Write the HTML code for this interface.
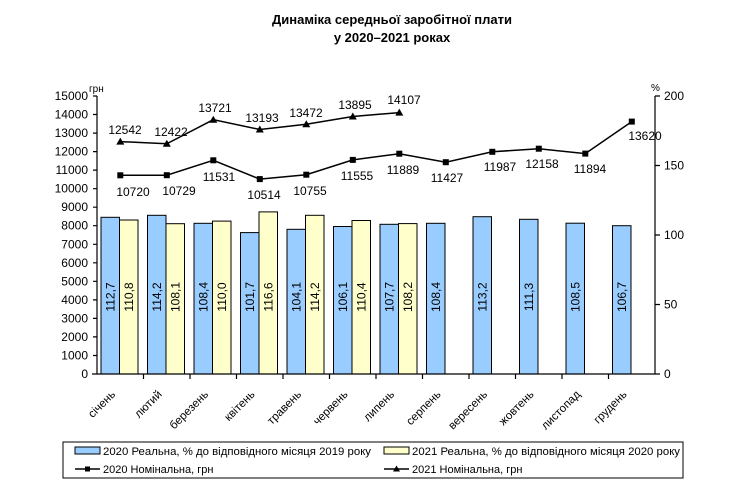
<!DOCTYPE html>
<html><head><meta charset="utf-8"><style>
html,body{margin:0;padding:0;background:#fff}
svg{display:block;font-family:"Liberation Sans",sans-serif}
</style></head><body>
<svg width="751" height="485" viewBox="0 0 751 485" xmlns="http://www.w3.org/2000/svg">
<text x="392" y="24" text-anchor="middle" font-size="13" font-weight="bold">Динаміка середньої заробітної плати</text>
<text x="392" y="42" text-anchor="middle" font-size="13" font-weight="bold">у 2020–2021 роках</text>
<g font-size="11" fill="#000">
<text x="89" y="92" font-size="10">грн</text>
<text x="651" y="91" font-size="10">%</text>
</g>
<g stroke="#000" stroke-width="1">
<g fill="#99ccff">
<rect x="101" y="217.3" width="18.5" height="156.7"/>
<rect x="147.5" y="215.3" width="18.5" height="158.7"/>
<rect x="194" y="223.3" width="18.5" height="150.7"/>
<rect x="240.5" y="232.6" width="18.5" height="141.4"/>
<rect x="287" y="229.3" width="18.5" height="144.7"/>
<rect x="333.5" y="226.5" width="18.5" height="147.5"/>
<rect x="380" y="224.3" width="18.5" height="149.7"/>
<rect x="426.5" y="223.3" width="18.5" height="150.7"/>
<rect x="473" y="216.7" width="18.5" height="157.3"/>
<rect x="519.5" y="219.3" width="18.5" height="154.7"/>
<rect x="566" y="223.2" width="18.5" height="150.8"/>
<rect x="612.5" y="225.7" width="18.5" height="148.3"/>
</g>
<g fill="#ffffcc">
<rect x="119.5" y="220" width="18.5" height="154"/>
<rect x="166" y="223.7" width="18.5" height="150.3"/>
<rect x="212.5" y="221.1" width="18.5" height="152.9"/>
<rect x="259" y="211.9" width="18.5" height="162.1"/>
<rect x="305.5" y="215.3" width="18.5" height="158.7"/>
<rect x="352" y="220.5" width="18.5" height="153.5"/>
<rect x="398.5" y="223.6" width="18.5" height="150.4"/>
</g>
</g>
<g font-size="12" text-anchor="middle">
<text transform="translate(114.5,297) rotate(-90)">112,7</text>
<text transform="translate(133,297) rotate(-90)">110,8</text>
<text transform="translate(161,297) rotate(-90)">114,2</text>
<text transform="translate(179.5,297) rotate(-90)">108,1</text>
<text transform="translate(207.5,297) rotate(-90)">108,4</text>
<text transform="translate(226,297) rotate(-90)">110,0</text>
<text transform="translate(254,297) rotate(-90)">101,7</text>
<text transform="translate(272.5,297) rotate(-90)">116,6</text>
<text transform="translate(300.5,297) rotate(-90)">104,1</text>
<text transform="translate(319,297) rotate(-90)">114,2</text>
<text transform="translate(347,297) rotate(-90)">106,1</text>
<text transform="translate(365.5,297) rotate(-90)">110,4</text>
<text transform="translate(393.5,297) rotate(-90)">107,7</text>
<text transform="translate(412,297) rotate(-90)">108,2</text>
<text transform="translate(440,297) rotate(-90)">108,4</text>
<text transform="translate(486.5,297) rotate(-90)">113,2</text>
<text transform="translate(533,297) rotate(-90)">111,3</text>
<text transform="translate(579.5,297) rotate(-90)">108,5</text>
<text transform="translate(626,297) rotate(-90)">106,7</text>
</g>
<g stroke="#000" stroke-width="1.2" fill="none">
<line x1="97" y1="96" x2="97" y2="374"/>
<line x1="655" y1="96" x2="655" y2="374"/>
<line x1="92" y1="374" x2="660" y2="374"/>
<path d="M93,96h4M93,114.5h4M93,133.1h4M93,151.6h4M93,170.1h4M93,188.7h4M93,207.2h4M93,225.7h4M93,244.3h4M93,262.8h4M93,281.3h4M93,299.9h4M93,318.4h4M93,336.9h4M93,355.5h4"/>
<path d="M655,96h5M655,165.5h5M655,235h5M655,304.5h5"/>
<path d="M143.5,374v5M190,374v5M236.5,374v5M283,374v5M329.5,374v5M376,374v5M422.5,374v5M469,374v5M515.5,374v5M562,374v5M608.5,374v5"/>
</g>
<g font-size="12" text-anchor="end">
<text x="88" y="100">15000</text><text x="88" y="118.5">14000</text><text x="88" y="137.1">13000</text>
<text x="88" y="155.6">12000</text><text x="88" y="174.1">11000</text><text x="88" y="192.7">10000</text>
<text x="88" y="211.2">9000</text><text x="88" y="229.7">8000</text><text x="88" y="248.3">7000</text>
<text x="88" y="266.8">6000</text><text x="88" y="285.3">5000</text><text x="88" y="303.9">4000</text>
<text x="88" y="322.4">3000</text><text x="88" y="340.9">2000</text><text x="88" y="359.5">1000</text>
<text x="88" y="378">0</text>
</g>
<g font-size="12">
<text x="664" y="100">200</text><text x="664" y="169.5">150</text><text x="664" y="239">100</text>
<text x="664" y="308.5">50</text><text x="664" y="378">0</text>
</g>
<polyline fill="none" stroke="#000" stroke-width="1.5" points="120.3,175.3 166.8,175.2 213.3,160.3 259.8,179.1 306.3,174.7 352.8,159.9 399.3,153.7 445.8,162.2 492.3,151.8 538.8,148.7 585.3,153.6 631.8,121.6"/>
<g fill="#000">
<rect x="117.3" y="172.3" width="6" height="6"/><rect x="163.8" y="172.2" width="6" height="6"/>
<rect x="210.3" y="157.3" width="6" height="6"/><rect x="256.8" y="176.1" width="6" height="6"/>
<rect x="303.3" y="171.7" width="6" height="6"/><rect x="349.8" y="156.9" width="6" height="6"/>
<rect x="396.3" y="150.7" width="6" height="6"/><rect x="442.8" y="159.2" width="6" height="6"/>
<rect x="489.3" y="148.8" width="6" height="6"/><rect x="535.8" y="145.7" width="6" height="6"/>
<rect x="582.3" y="150.6" width="6" height="6"/><rect x="628.8" y="118.6" width="6" height="6"/>
</g>
<polyline fill="none" stroke="#000" stroke-width="1.5" points="120.3,141.6 166.8,143.8 213.3,119.7 259.8,129.5 306.3,124.3 352.8,116.5 399.3,112.6"/>
<g fill="#000">
<path d="M120.3,137.6l4,7h-8z"/><path d="M166.8,139.8l4,7h-8z"/><path d="M213.3,115.7l4,7h-8z"/>
<path d="M259.8,125.5l4,7h-8z"/><path d="M306.3,120.3l4,7h-8z"/><path d="M352.8,112.5l4,7h-8z"/>
<path d="M399.3,108.6l4,7h-8z"/>
</g>
<g font-size="12" text-anchor="middle">
<text x="133" y="196">10720</text><text x="179" y="195">10729</text><text x="219" y="181">11531</text>
<text x="264" y="199">10514</text><text x="310" y="195">10755</text><text x="357" y="180">11555</text>
<text x="403" y="174">11889</text><text x="447" y="182">11427</text><text x="500" y="171">11987</text>
<text x="542" y="168">12158</text><text x="590" y="173">11894</text><text x="645" y="140">13620</text>
<text x="125" y="134">12542</text><text x="171" y="136">12422</text><text x="215" y="112">13721</text>
<text x="262" y="122">13193</text><text x="306" y="117">13472</text><text x="355" y="109">13895</text>
<text x="404" y="104">14107</text>
</g>
<g font-size="11.5" text-anchor="end">
<text transform="translate(116,395) rotate(-45)">січень</text>
<text transform="translate(162.5,395) rotate(-45)">лютий</text>
<text transform="translate(209,395) rotate(-45)">березень</text>
<text transform="translate(255.5,395) rotate(-45)">квітень</text>
<text transform="translate(302,395) rotate(-45)">травень</text>
<text transform="translate(348.5,395) rotate(-45)">червень</text>
<text transform="translate(395,395) rotate(-45)">липень</text>
<text transform="translate(441.5,395) rotate(-45)">серпень</text>
<text transform="translate(488,395) rotate(-45)">вересень</text>
<text transform="translate(534.5,395) rotate(-45)">жовтень</text>
<text transform="translate(581,395) rotate(-45)">листопад</text>
<text transform="translate(627.5,395) rotate(-45)">грудень</text>
</g>
<rect x="63" y="442" width="620" height="36" fill="none" stroke="#000" stroke-width="1"/>
<rect x="75" y="447" width="25" height="7" fill="#99ccff" stroke="#000"/>
<rect x="384" y="447" width="25" height="7" fill="#ffffcc" stroke="#000"/>
<line x1="75" y1="469" x2="100" y2="469" stroke="#000" stroke-width="1.5"/><rect x="85" y="466.5" width="5" height="5"/>
<line x1="384" y1="469" x2="409" y2="469" stroke="#000" stroke-width="1.5"/><path d="M396.5,465.5l3.5,6h-7z"/>
<g font-size="11">
<text x="103" y="455" textLength="268" lengthAdjust="spacingAndGlyphs">2020 Реальна, % до відповідного місяця 2019 року</text>
<text x="412" y="455" textLength="268" lengthAdjust="spacingAndGlyphs">2021 Реальна, % до відповідного місяця 2020 року</text>
<text x="103" y="473">2020 Номінальна, грн</text>
<text x="412" y="473">2021 Номінальна, грн</text>
</g>
</svg>
</body></html>
